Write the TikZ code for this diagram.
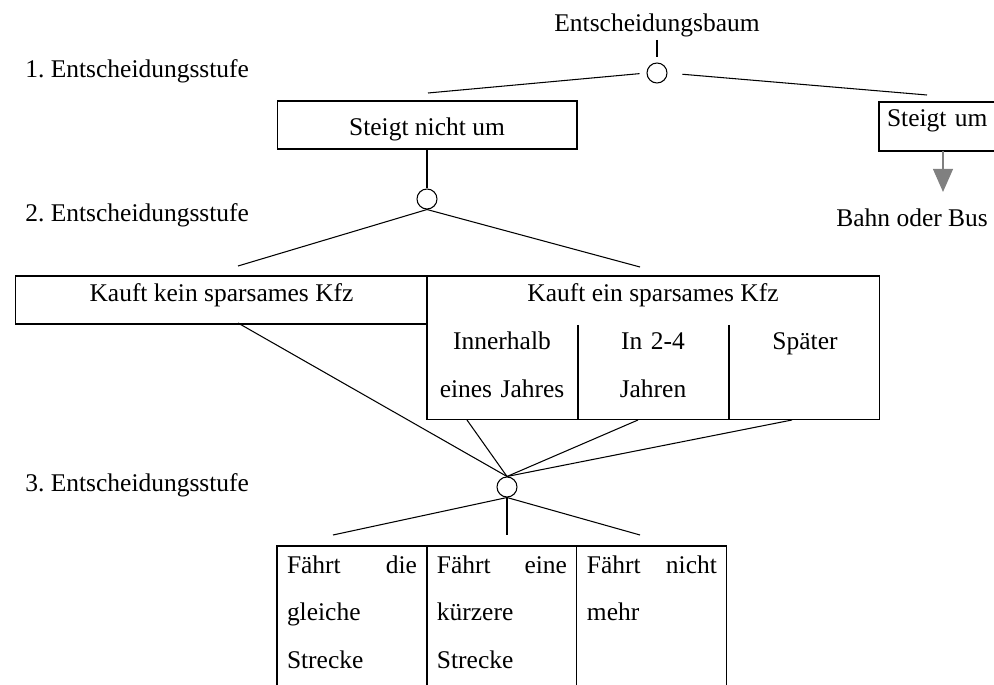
\documentclass[tikz,border=0pt]{standalone}
\usepackage{fontspec}
\setmainfont{Liberation Serif}
\usetikzlibrary{arrows.meta,positioning}
\frenchspacing

\tikzset{
  kasten/.style={draw, inner sep=0pt, outer sep=0pt, anchor=base},
  kreis/.style={draw, circle, minimum size=0.4cm, inner sep=0pt},
  zelle/.style={draw, outer sep=0pt, text width=2.6cm, inner xsep=0.2cm, inner ysep=0.19cm, align=left},
  spalte/.style={text width=2.8cm, align=center},
  pfeil/.style={draw=gray, -{Triangle[length=0.46cm, width=0.4cm]}}
}

\begin{document}
\begin{tikzpicture}[x=0.02cm, y=-0.02cm, line width=0.6pt, font=\fontsize{14.5}{27}\selectfont]
    \useasboundingbox (0,0) rectangle (994,685);
    \clip (0,0) rectangle (994,685);
    % Stufen
    \node[anchor=base west] (stufe1) at (19,78) {1. Entscheidungsstufe};
    \node[anchor=base west] (stufe2) at (19,222) {2. Entscheidungsstufe};
    \node[anchor=base west] (stufe3) at (19,492) {3. Entscheidungsstufe};

    % 1. Stufe
    \node[anchor=base, inner ysep=1pt] (baum) at (657,32) {Entscheidungsbaum};
    \node[kreis] (k1) at (657,73) {};
    \node[kasten, minimum width=6cm, text height=0.7cm, text depth=0.26cm] (nicht) at (427,136) {Steigt nicht um};
    \node[kasten, text width=2.8cm, inner xsep=0.16cm, align=left, text height=0.5cm, text depth=0.48cm] (um) at (957,127) {Steigt um};
    \node[anchor=base west] (bahn) at (830,227) {Bahn oder Bus};
    \coordinate (n1) at (428,93);
    \coordinate (u1) at (927,95);
    \coordinate (u2) at (943,151);
    \draw[shorten >=0.1cm] (baum.south) -- (k1.north);
    \draw[shorten <=0.14cm] (k1.west) -- (n1);
    \draw[shorten <=0.3cm] (k1.east) -- (u1);
    \draw[pfeil, shorten >=0.22cm] (u2) -- (u2 |- bahn.north);

    % 2. Stufe
    \node[kreis] (k2) at (427,199) {};
    \draw (nicht.south) -- (k2.north);
    \coordinate (kein1) at (238,266);
    \coordinate (ein1) at (640,267);
    \draw (k2.south) -- (kein1);
    \draw (k2.south) -- (ein1);
    \node[kasten, minimum width=8.26cm, text height=0.52cm, text depth=0.44cm] (kein) at (221.5,302) {Kauft kein sparsames Kfz};
    \node[kasten, minimum width=9.06cm, minimum height=2.88cm, anchor=north west] (ein) at (427,276) {};
    \node[anchor=base] (eintext) at (653,302) {Kauft ein sparsames Kfz};
    \draw (578,325) -- (578,420);
    \draw (729,325) -- (729,420);
    \node[spalte, anchor=base] (jahr1) at (502,350) {Innerhalb\\eines Jahres};
    \node[spalte, anchor=base] (jahr2) at (653,350) {In 2-4\\Jahren};
    \node[spalte, anchor=base] (jahr3) at (805,350) {Später};

    % 3. Stufe
    \node[kreis] (k3) at (507,487) {};
    \coordinate (kein2) at (238,323);
    \coordinate (ein2) at (467,420);
    \coordinate (ein3) at (638,420);
    \coordinate (ein4) at (792,420);
    \foreach \p in {kein2,ein2,ein3,ein4}
        \draw (\p) -- (k3.north);
    \coordinate (z1o) at (333,535);
    \coordinate (z2o) at (507,535);
    \coordinate (z3o) at (640,535);
    \foreach \p in {z1o,z2o,z3o}
        \draw (k3.south) -- (\p);
    \node[zelle, anchor=north west] (z1) at (277,546) {Fährt\hfill die\\gleiche\\Strecke\\\mbox{}};
    \node[zelle, right=0pt of z1] (z2) {Fährt\hfill eine\\kürzere\\Strecke\\\mbox{}};
    \node[zelle, right=0pt of z2] (z3) {Fährt\hfill nicht\\mehr\\\mbox{}\\\mbox{}};
\end{tikzpicture}
\end{document}
